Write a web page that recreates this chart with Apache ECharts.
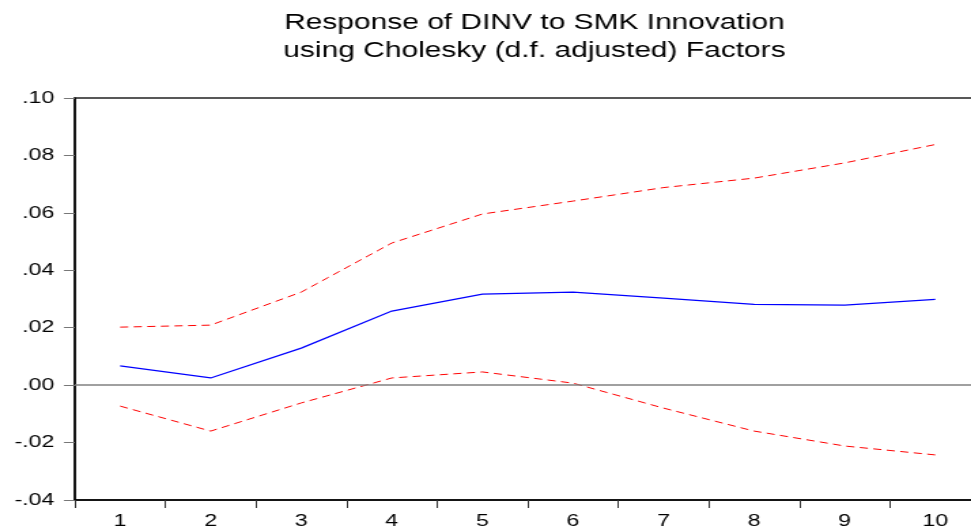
<!DOCTYPE html>
<html>
<head>
<meta charset="utf-8">
<script src="https://cdn.jsdelivr.net/npm/echarts@6/dist/echarts.min.js"></script>
<style>
html, body { margin: 0; padding: 0; background: #fff; overflow: hidden; }
/* the original export is stretched sideways, so draw narrow and stretch */
#chart { width: 728px; height: 531px; transform: scaleX(1.36); transform-origin: 0 0; }
</style>
</head>
<body>
<div id="chart"></div>
<script>
// periods on x axis
const periods = ['1', '2', '3', '4', '5', '6', '7', '8', '9', '10'];
// impulse response (blue)
const response = [0.0067, 0.0025, 0.0129, 0.0258, 0.0317, 0.0324, 0.0303, 0.0281, 0.0279, 0.0299];
// +/- 2 S.E. bands (red dashed)
const upperBand = [0.0202, 0.0209, 0.0324, 0.0495, 0.0596, 0.0641, 0.0688, 0.0721, 0.0774, 0.0838];
const lowerBand = [-0.0073, -0.0160, -0.0062, 0.0025, 0.0046, 0.0007, -0.0080, -0.0160, -0.0212, -0.0243];

const fmt = v => {
    // eviews style: .10, -.02
    let s = Math.abs(v).toFixed(2).replace(/^0/, '');
    return (v < 0 ? '-' : '') + s;
};

const chart = echarts.init(document.getElementById('chart'));
const font = '"Liberation Sans", Arial, sans-serif';

const option = {
    animation: false,
    title: {
        text: 'Response of DINV to SMK Innovation\nusing Cholesky (d.f. adjusted) Factors',
        left: 388,
        textAlign: 'center',
        top: 4,
        textStyle: { fontFamily: font, fontSize: 22, fontWeight: 'normal', color: '#000', lineHeight: 28 }
    },
    grid: {
        left: 55, top: 98, width: 666, height: 402,
        show: true, borderColor: '#222', borderWidth: 1.5
    },
    xAxis: {
        type: 'category',
        data: periods,
        boundaryGap: true,
        axisLine: { onZero: false, lineStyle: { color: '#000', width: 1.5 } },
        axisTick: { show: true, length: 8, lineStyle: { color: '#333' } },
        axisLabel: { color: '#000', fontFamily: font, fontSize: 17, margin: 13 },
        splitLine: { show: false }
    },
    yAxis: {
        type: 'value',
        min: -0.04, max: 0.10, interval: 0.02,
        axisLine: { show: true, lineStyle: { color: '#000', width: 1.5 } },
        axisTick: { show: true, length: 8, lineStyle: { color: '#777' } },
        axisLabel: { color: '#000', fontFamily: font, fontSize: 17, margin: 15, formatter: fmt },
        splitLine: { show: false }
    },
    series: [
        {
            type: 'line', data: upperBand, symbol: 'none',
            lineStyle: { color: '#ff0000', width: 1, type: [6, 4] }
        },
        {
            type: 'line', data: lowerBand, symbol: 'none',
            lineStyle: { color: '#ff0000', width: 1, type: [6, 4] }
        },
        {
            type: 'line', data: response, symbol: 'none',
            lineStyle: { color: '#0000ff', width: 1.2 },
            markLine: {
                silent: true, symbol: 'none', label: { show: false },
                lineStyle: { color: '#808080', width: 1.5, type: 'solid' },
                data: [{ yAxis: 0 }]
            },
            z: 3
        }
    ]
};
chart.setOption(option);
</script>
</body>
</html>
